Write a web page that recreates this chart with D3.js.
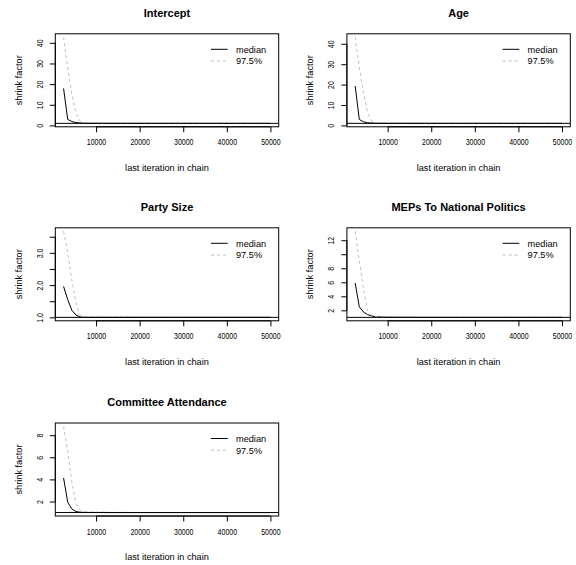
<!DOCTYPE html>
<html>
<head>
<meta charset="utf-8">
<script src="https://cdn.jsdelivr.net/npm/d3@7"></script>
<style>
  body { margin: 0; background: #fff; }
  svg { display: block; }
  text { font-family: "Liberation Sans", Arial, Helvetica, sans-serif; fill: #000; -webkit-font-smoothing: antialiased; }
  .tick text { opacity: 0.999; }
</style>
</head>
<body>
<svg id="chart" width="576" height="565"></svg>
<script>
// Last iteration of each bin used for the shrink-factor estimate
const lastIter = [
  2551, 3500, 4449, 5398, 6347, 7296, 8245, 9194, 10143, 11092,
  12041, 12990, 13939, 14888, 15837, 16786, 17735, 18684, 19633, 20582,
  21531, 22480, 23429, 24378, 25327, 26276, 27225, 28174, 29123, 30072,
  31021, 31970, 32919, 33868, 34817, 35766, 36715, 37664, 38613, 39562,
  40511, 41460, 42409, 43358, 44307, 45256, 46205, 47154, 48103, 49052, 50000
];

const titles = ["Intercept", "Age", "Party Size", "MEPs To National Politics", "Committee Attendance"];

// Median shrink factors
const medianIntercept = [
  17.9, 2.9, 1.9, 1.35, 1.14, 1.07, 1.04, 1.03, 1.02, 1.02,
  1.01, 1.01, 1.01, 1.01, 1.01, 1.01, 1.00, 1.01, 1.00, 1.00,
  1.00, 1.00, 1.00, 1.00, 1.00, 1.00, 1.00, 1.00, 1.00, 1.00,
  1.00, 1.00, 1.00, 1.00, 1.00, 1.00, 1.00, 1.00, 1.00, 1.00,
  1.00, 1.00, 1.00, 1.00, 1.00, 1.00, 1.00, 1.00, 1.00, 1.00, 1.00
];
const medianAge = [
  19.3, 2.9, 1.8, 1.3, 1.12, 1.06, 1.04, 1.03, 1.02, 1.02,
  1.02, 1.01, 1.01, 1.01, 1.01, 1.01, 1.01, 1.00, 1.00, 1.00,
  1.00, 1.00, 1.00, 1.00, 1.00, 1.00, 1.00, 1.00, 1.00, 1.00,
  1.00, 1.00, 1.00, 1.00, 1.00, 1.00, 1.00, 1.00, 1.00, 1.00,
  1.00, 1.00, 1.00, 1.00, 1.00, 1.00, 1.00, 1.00, 1.00, 1.00, 1.00
];
const medianPartySize = [
  1.96, 1.55, 1.22, 1.07, 1.01, 1.00, 1.00, 1.00, 1.00, 1.00,
  1.00, 1.00, 1.00, 1.00, 1.00, 1.00, 1.00, 1.00, 1.00, 1.00,
  1.00, 1.00, 1.00, 1.00, 1.00, 1.00, 1.00, 1.00, 1.00, 1.00,
  1.00, 1.00, 1.00, 1.00, 1.00, 1.00, 1.00, 1.00, 1.00, 1.00,
  1.00, 1.00, 1.00, 1.00, 1.00, 1.00, 1.00, 1.00, 1.00, 1.00, 1.00
];
const medianMEPs = [
  5.9, 2.5, 1.77, 1.39, 1.2, 1.08, 1.05, 1.03, 1.02, 1.02,
  1.01, 1.01, 1.01, 1.01, 1.01, 1.00, 1.00, 1.00, 1.00, 1.00,
  1.00, 1.00, 1.00, 1.00, 1.00, 1.00, 1.00, 1.00, 1.00, 1.00,
  1.00, 1.00, 1.00, 1.00, 1.00, 1.00, 1.00, 1.00, 1.00, 1.00,
  1.00, 1.00, 1.00, 1.00, 1.00, 1.00, 1.00, 1.00, 1.00, 1.00, 1.00
];
const medianCommittee = [
  4.13, 1.94, 1.33, 1.09, 1.03, 1.02, 1.01, 1.01, 1.01, 1.01,
  1.01, 1.00, 1.00, 1.00, 1.00, 1.00, 1.00, 1.00, 1.00, 1.00,
  1.00, 1.00, 1.00, 1.00, 1.00, 1.00, 1.00, 1.00, 1.00, 1.00,
  1.00, 1.00, 1.00, 1.00, 1.00, 1.00, 1.00, 1.00, 1.00, 1.00,
  1.00, 1.00, 1.00, 1.00, 1.00, 1.00, 1.00, 1.00, 1.00, 1.00, 1.00
];

// Upper 97.5% shrink factors
const upperIntercept = [
  42.7, 27.8, 15.2, 5.9, 2.0, 1.28, 1.14, 1.09, 1.07, 1.05,
  1.04, 1.04, 1.03, 1.03, 1.03, 1.02, 1.02, 1.02, 1.02, 1.02,
  1.01, 1.01, 1.01, 1.01, 1.01, 1.01, 1.01, 1.01, 1.01, 1.01,
  1.01, 1.01, 1.01, 1.01, 1.01, 1.01, 1.01, 1.01, 1.01, 1.01,
  1.01, 1.01, 1.01, 1.01, 1.01, 1.01, 1.01, 1.01, 1.01, 1.01, 1.01
];
const upperAge = [
  43.2, 28.5, 15.8, 6.2, 2.1, 1.3, 1.15, 1.1, 1.07, 1.05,
  1.05, 1.04, 1.04, 1.03, 1.03, 1.03, 1.02, 1.02, 1.02, 1.02,
  1.02, 1.01, 1.01, 1.01, 1.01, 1.01, 1.01, 1.01, 1.01, 1.01,
  1.01, 1.01, 1.01, 1.01, 1.01, 1.01, 1.01, 1.01, 1.01, 1.01,
  1.01, 1.01, 1.01, 1.01, 1.01, 1.01, 1.01, 1.01, 1.01, 1.01, 1.01
];
const upperPartySize = [
  3.67, 3.0, 2.17, 1.45, 1.06, 1.03, 1.03, 1.02, 1.02, 1.02,
  1.02, 1.02, 1.02, 1.02, 1.02, 1.02, 1.02, 1.02, 1.01, 1.01,
  1.01, 1.01, 1.01, 1.01, 1.01, 1.01, 1.01, 1.01, 1.01, 1.01,
  1.01, 1.01, 1.01, 1.01, 1.01, 1.01, 1.01, 1.01, 1.01, 1.01,
  1.01, 1.01, 1.01, 1.01, 1.01, 1.01, 1.01, 1.01, 1.01, 1.01, 1.01
];
const upperMEPs = [
  13.28, 9.1, 5.1, 2.0, 1.25, 1.12, 1.08, 1.06, 1.05, 1.04,
  1.04, 1.03, 1.03, 1.03, 1.02, 1.02, 1.02, 1.02, 1.02, 1.02,
  1.02, 1.01, 1.01, 1.01, 1.01, 1.01, 1.01, 1.01, 1.01, 1.01,
  1.01, 1.01, 1.01, 1.01, 1.01, 1.01, 1.01, 1.01, 1.01, 1.01,
  1.01, 1.01, 1.01, 1.01, 1.01, 1.01, 1.01, 1.01, 1.01, 1.01, 1.01
];
const upperCommittee = [
  8.79, 6.5, 3.76, 1.8, 1.2, 1.08, 1.05, 1.04, 1.03, 1.03,
  1.03, 1.02, 1.02, 1.02, 1.02, 1.02, 1.02, 1.01, 1.01, 1.01,
  1.01, 1.01, 1.01, 1.01, 1.01, 1.01, 1.01, 1.01, 1.01, 1.01,
  1.01, 1.01, 1.01, 1.01, 1.01, 1.01, 1.01, 1.01, 1.01, 1.01,
  1.01, 1.01, 1.01, 1.01, 1.01, 1.01, 1.01, 1.01, 1.01, 1.01, 1.01
];

// Axis ticks and labels
const xTicks = [10000, 20000, 30000, 40000, 50000];
const yTicksIntercept = [0, 10, 20, 30, 40];
const yLabelsIntercept = ["0", "10", "20", "30", "40"];
const yTicksAge = [0, 10, 20, 30, 40];
const yLabelsAge = ["0", "10", "20", "30", "40"];
const yTicksPartySize = [1.0, 1.5, 2.0, 2.5, 3.0, 3.5];
const yLabelsPartySize = ["1.0", "", "2.0", "", "3.0", ""];
const yTicksMEPs = [2, 4, 6, 8, 10, 12];
const yLabelsMEPs = ["2", "4", "6", "8", "", "12"];
const yTicksCommittee = [2, 4, 6, 8];
const yLabelsCommittee = ["2", "4", "6", "8"];

const legendLabels = ["median", "97.5%"];
const xLabel = "last iteration in chain";
const yLabel = "shrink factor";

const panels = [
  { median: medianIntercept, upper: upperIntercept, ticks: yTicksIntercept, labels: yLabelsIntercept },
  { median: medianAge, upper: upperAge, ticks: yTicksAge, labels: yLabelsAge },
  { median: medianPartySize, upper: upperPartySize, ticks: yTicksPartySize, labels: yLabelsPartySize },
  { median: medianMEPs, upper: upperMEPs, ticks: yTicksMEPs, labels: yLabelsMEPs },
  { median: medianCommittee, upper: upperCommittee, ticks: yTicksCommittee, labels: yLabelsCommittee }
];

const svg = d3.select("#chart");
const colOffset = [0, 291.6];
const rowTop = [33.8, 227.8, 423.0];
const boxW = 223.4, boxH = 93;
const tickLen = 5.5;
const tickFont = "9.2px";
const tickSqueeze = 0.76; // tick numbers are set in a narrow face

// extend a range by 4% on each side, like R's default axis style
function padded(lo, hi) {
  const p = 0.04 * (hi - lo);
  return [lo - p, hi + p];
}

panels.forEach((pd, i) => {
  const col = i % 2, row = Math.floor(i / 2);
  const L = colOffset[col] + 55.3, R = L + boxW;
  const T = rowTop[row], B = T + boxH;

  const x = d3.scaleLinear().domain(padded(d3.min(lastIter), d3.max(lastIter))).range([L, R]);
  const yMax = d3.max([1, d3.max(pd.median), d3.max(pd.upper)]);
  const y = d3.scaleLinear().domain(padded(1, yMax)).range([B, T]);

  const g = svg.append("g");

  // title
  g.append("text")
    .attr("x", (L + R) / 2).attr("y", T - 17)
    .attr("text-anchor", "middle")
    .style("font-size", "11px").style("font-weight", "bold")
    .text(titles[i]);

  // curves: median solid black, upper dashed grey
  const line = d3.line().x((d, k) => x(lastIter[k])).y(d => y(d));
  const clipId = "clip" + i;
  svg.append("clipPath").attr("id", clipId)
    .append("rect").attr("x", L).attr("y", T).attr("width", boxW).attr("height", boxH);
  const plot = g.append("g").attr("clip-path", `url(#${clipId})`);
  plot.append("path").datum(pd.median).attr("d", line)
    .attr("fill", "none").attr("stroke", "#000").attr("stroke-width", 1);
  plot.append("path").datum(pd.upper).attr("d", line)
    .attr("fill", "none").attr("stroke", "#bebebe").attr("stroke-width", 1)
    .attr("stroke-dasharray", "3,3");
  // reference line at 1
  plot.append("line")
    .attr("x1", L).attr("x2", R).attr("y1", y(1)).attr("y2", y(1))
    .attr("stroke", "#000").attr("stroke-width", 1);

  // box
  g.append("rect").attr("x", L).attr("y", T).attr("width", boxW).attr("height", boxH)
    .attr("fill", "none").attr("stroke", "#000").attr("stroke-width", 1);

  // x axis
  const xa = g.append("g").attr("transform", `translate(0,${B})`)
    .call(d3.axisBottom(x).tickValues(xTicks).tickSize(tickLen).tickFormat(d3.format("d")));
  xa.select(".domain").attr("d", `M${x(xTicks[0])},0H${x(xTicks[xTicks.length - 1])}`);
  xa.selectAll(".tick text")
    .attr("y", 18.7).attr("dy", null)
    .attr("fill", "#000")
    .attr("transform", `scale(${tickSqueeze},1)`)
    .style("font-size", tickFont);

  // y axis
  const ya = g.append("g").attr("transform", `translate(${L},0)`)
    .call(d3.axisLeft(y).tickValues(pd.ticks).tickSize(tickLen).tickFormat((d, k) => pd.labels[k]));
  ya.select(".domain").attr("d", `M0,${y(pd.ticks[0])}V${y(pd.ticks[pd.ticks.length - 1])}`);
  ya.selectAll(".tick text")
    .attr("x", null).attr("dy", null)
    .attr("fill", "#000")
    .attr("text-anchor", "middle")
    .attr("transform", `translate(-12.6,0) rotate(-90) scale(${tickSqueeze},1)`)
    .style("font-size", tickFont);

  // axis titles
  g.append("text")
    .attr("x", (L + R) / 2).attr("y", B + 44)
    .attr("text-anchor", "middle").style("font-size", "9.2px")
    .text(xLabel);
  g.append("text")
    .attr("transform", `translate(${L - 33.5},${(T + B) / 2}) rotate(-90)`)
    .attr("text-anchor", "middle").style("font-size", "9.2px")
    .text(yLabel);

  // legend (top right, no frame)
  const legendRows = [
    { label: legendLabels[0], color: "#000", dash: null },
    { label: legendLabels[1], color: "#bebebe", dash: "3,3" }
  ];
  legendRows.forEach((r, k) => {
    const ly = T + 15.5 + k * 11.7;
    g.append("line")
      .attr("x1", L + 155.7).attr("x2", L + 172.4).attr("y1", ly).attr("y2", ly)
      .attr("stroke", r.color).attr("stroke-width", 1)
      .attr("stroke-dasharray", r.dash);
    g.append("text")
      .attr("x", L + 180.7).attr("y", ly + 3.3)
      .style("font-size", "9.2px")
      .text(r.label);
  });
});
</script>
</body>
</html>
